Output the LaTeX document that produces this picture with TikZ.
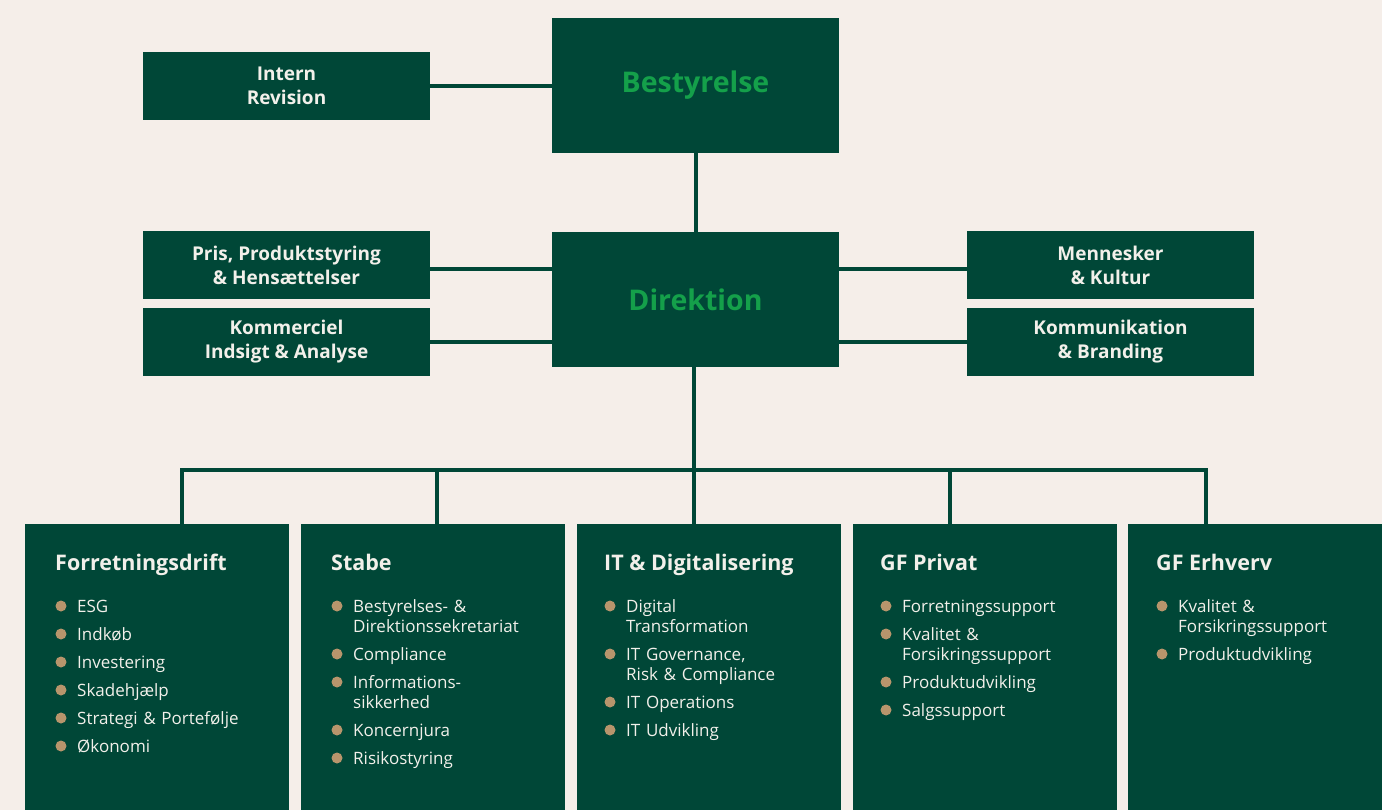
\documentclass[tikz,border=0pt]{standalone}
\usepackage{fontspec}
\setmainfont{Open Sans}
\definecolor{bgc}{HTML}{F5EEE9}
\definecolor{boxc}{HTML}{004737}
\definecolor{greentxt}{HTML}{14A04A}
\definecolor{lighttxt}{HTML}{F2F0EA}
\definecolor{bulc}{HTML}{B8956C}
\tikzset{
  sidebox/.style={fill=boxc, draw=none, text=lighttxt, font=\bfseries\fontsize{19}{24}\selectfont,
    align=center, inner sep=0pt, minimum width=287pt, minimum height=68pt},
  mainbox/.style={fill=boxc, draw=none, text=greentxt, font=\bfseries\fontsize{28.5}{36}\selectfont,
    inner sep=0pt, minimum width=287pt, minimum height=135pt},
  colbox/.style={fill=boxc, draw=none, anchor=north west, inner sep=0pt, minimum width=264pt, minimum height=290pt},
  coltitle/.style={text=lighttxt, font=\bfseries\fontsize{21.5}{28}\selectfont, anchor=base west, inner sep=0pt},
  itemtxt/.style={text=lighttxt, font=\fontsize{17}{20}\selectfont, anchor=base west, inner sep=0pt,
    text width=210pt, align=left},
  conn/.style={draw=boxc, line width=4pt}
}
\newcommand\bitem[4]{%
  \node[itemtxt] (#1) at (#2+52,#3) {#4};
  \fill[bulc] (#2+36,#3-6) circle (5.5pt);
}
\begin{document}
\begin{tikzpicture}[x=1pt,y=-1pt]
\fill[bgc] (0,0) rectangle (1382,810);
\useasboundingbox (0,0) rectangle (1382,810);

% top boxes
\node[mainbox] (best) at (695.5,85.5) {Bestyrelse};
\node[mainbox] (dir) at (695.5,299.5) {Direktion};
\node[sidebox] (intern) at (286.5,86) {Intern\\Revision};
\node[sidebox] (pris) at (286.5,265.5) {Pris, Produktstyring\\\& Hensættelser};
\node[sidebox] (komm) at (286.5,342) {Kommerciel\\Indsigt \& Analyse};
\node[sidebox] (menn) at (1110.5,265.5) {Mennesker\\\& Kultur};
\node[sidebox] (kommu) at (1110.5,342) {Kommunikation\\\& Branding};

% columns
\node[colbox] (c1) at (25,524) {};
\node[colbox] (c2) at (301,524) {};
\node[colbox] (c3) at (577,524) {};
\node[colbox] (c4) at (853,524) {};
\node[colbox] (c5) at (1128,524) {};

% connectors
\draw[conn] (intern.east) -- (intern.east -| best.west);
\draw[conn] (best.south) -- (dir.north);
\draw[conn] ([yshift=-4pt]pris.east) -- ([yshift=-4pt]pris.east -| dir.west);
\draw[conn] (komm.east) -- (komm.east -| dir.west);
\draw[conn] ([yshift=-4pt]menn.west) -- ([yshift=-4pt]menn.west -| dir.east);
\draw[conn] (kommu.west) -- (kommu.west -| dir.east);
\coordinate (b1) at (182,470);
\coordinate (b2) at (437,470);
\coordinate (b3) at (694,470);
\coordinate (b4) at (950,470);
\coordinate (b5) at (1206,470);
\draw[conn] (b1 |- c1.north) -- (b1) -- (b5) -- (b5 |- c5.north);
\draw[conn] (b2) -- (b2 |- c2.north);
\draw[conn] (b4) -- (b4 |- c4.north);
\draw[conn] (dir.south -| b3) -- (b3 |- c3.north);

% titles
\node[coltitle] (t1) at (55,570) {Forretningsdrift};
\node[coltitle] (t2) at (331,570) {Stabe};
\node[coltitle] (t3) at (604,570) {IT \& Digitalisering};
\node[coltitle] (t4) at (880,570) {GF Privat};
\node[coltitle] (t5) at (1156,570) {GF Erhverv};

% items col 1
\bitem{a1}{25}{612}{ESG}
\bitem{a2}{25}{640}{Indkøb}
\bitem{a3}{25}{668}{Investering}
\bitem{a4}{25}{696}{Skadehjælp}
\bitem{a5}{25}{724}{Strategi \& Portefølje}
\bitem{a6}{25}{752}{Økonomi}
% col 2
\bitem{s1}{301}{612}{Bestyrelses- \&\\Direktionssekretariat}
\bitem{s2}{301}{660}{Compliance}
\bitem{s3}{301}{688}{Informations-\\sikkerhed}
\bitem{s4}{301}{736}{Koncernjura}
\bitem{s5}{301}{764}{Risikostyring}
% col 3
\bitem{d1}{574}{612}{Digital\\Transformation}
\bitem{d2}{574}{660}{IT Governance,\\Risk \& Compliance}
\bitem{d3}{574}{708}{IT Operations}
\bitem{d4}{574}{736}{IT Udvikling}
% col 4
\bitem{p1}{850}{612}{Forretningssupport}
\bitem{p2}{850}{640}{Kvalitet \&\\Forsikringssupport}
\bitem{p3}{850}{688}{Produktudvikling}
\bitem{p4}{850}{716}{Salgssupport}
% col 5
\bitem{e1}{1126}{612}{Kvalitet \&\\Forsikringssupport}
\bitem{e2}{1126}{660}{Produktudvikling}
\end{tikzpicture}
\end{document}
